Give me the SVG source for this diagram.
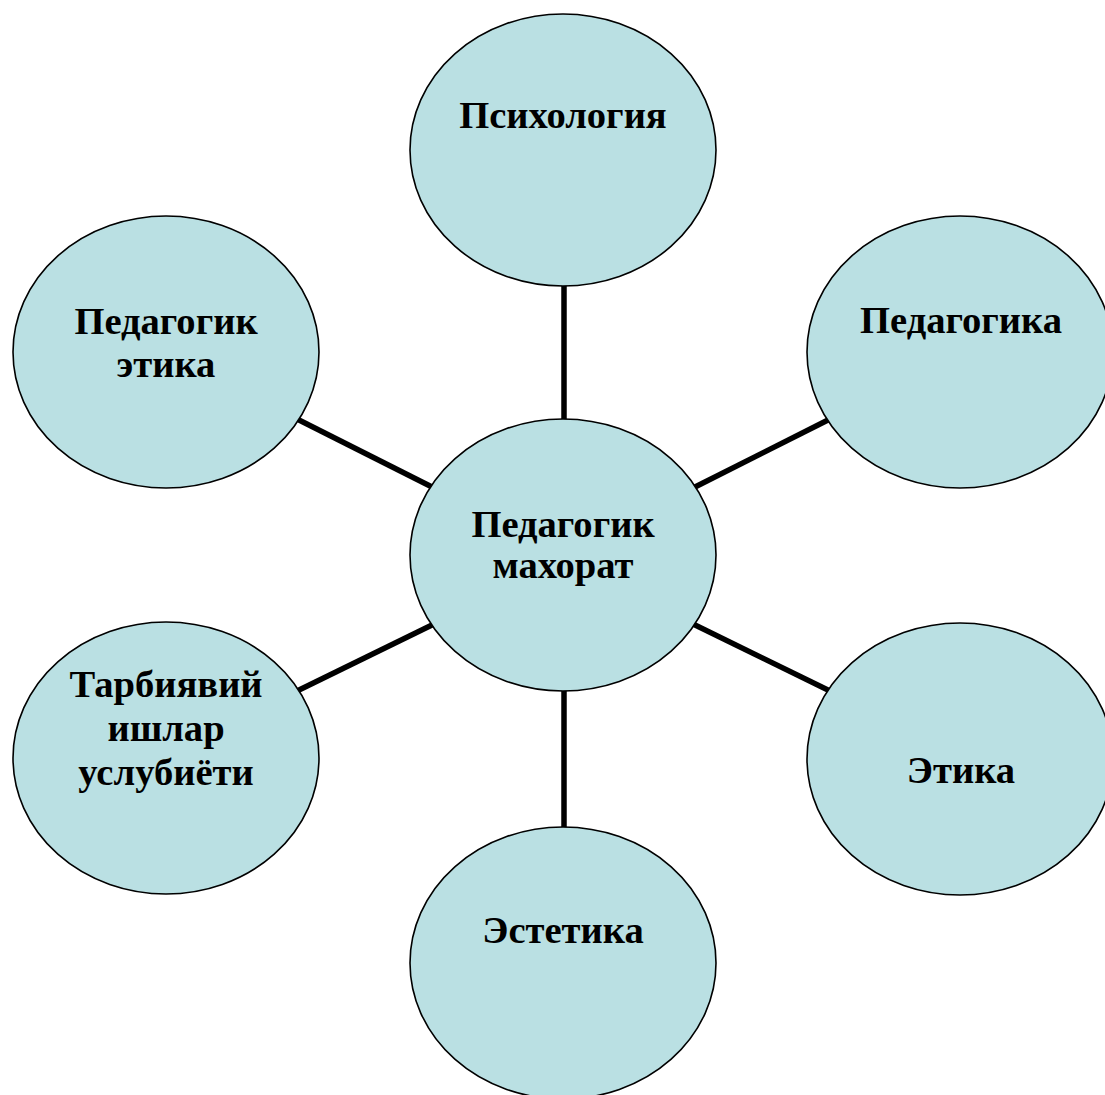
<svg xmlns="http://www.w3.org/2000/svg" width="1105" height="1095" viewBox="0 0 1105 1095">
<style>
.n ellipse{fill:#BAE0E3;stroke:#000;stroke-width:1.6}
.n text{font-family:"Liberation Serif","Times New Roman",serif;font-weight:bold;font-size:38.6px;fill:#000;text-anchor:middle}
#connectors line{stroke:#000;stroke-width:5.5}
</style>
<rect width="1105" height="1095" fill="#fff"/>
<g id="connectors">
<line x1="564" y1="284" x2="564" y2="422"/>
<line x1="564" y1="689" x2="564" y2="829"/>
<line x1="297" y1="419" x2="434" y2="488"/>
<line x1="297" y1="691" x2="434" y2="624"/>
<line x1="830" y1="419" x2="693" y2="488"/>
<line x1="830" y1="691" x2="693" y2="624"/>
</g>
<g id="node-psixologiya" class="n"><ellipse cx="563" cy="150" rx="153" ry="136"/><text x="563" y="128">Психология</text></g>
<g id="node-pedagogik-etika" class="n"><ellipse cx="166" cy="352" rx="153" ry="136"/><text x="166" y="334">Педагогик</text><text x="166" y="377">этика</text></g>
<g id="node-pedagogika" class="n"><ellipse cx="960" cy="352" rx="153" ry="136"/><text x="961" y="333">Педагогика</text></g>
<g id="node-center" class="n"><ellipse cx="563" cy="555" rx="153" ry="136"/><text x="563" y="537">Педагогик</text><text x="563" y="578">махорат</text></g>
<g id="node-tarbiyaviy" class="n"><ellipse cx="166" cy="758" rx="153" ry="136"/><text x="166" y="697">Тарбиявий</text><text x="166" y="741">ишлар</text><text x="166" y="785">услубиёти</text></g>
<g id="node-etika" class="n"><ellipse cx="960" cy="759" rx="153" ry="136"/><text x="961" y="783">Этика</text></g>
<g id="node-estetika" class="n"><ellipse cx="563" cy="963" rx="153" ry="136"/><text x="563" y="943">Эстетика</text></g>
</svg>
